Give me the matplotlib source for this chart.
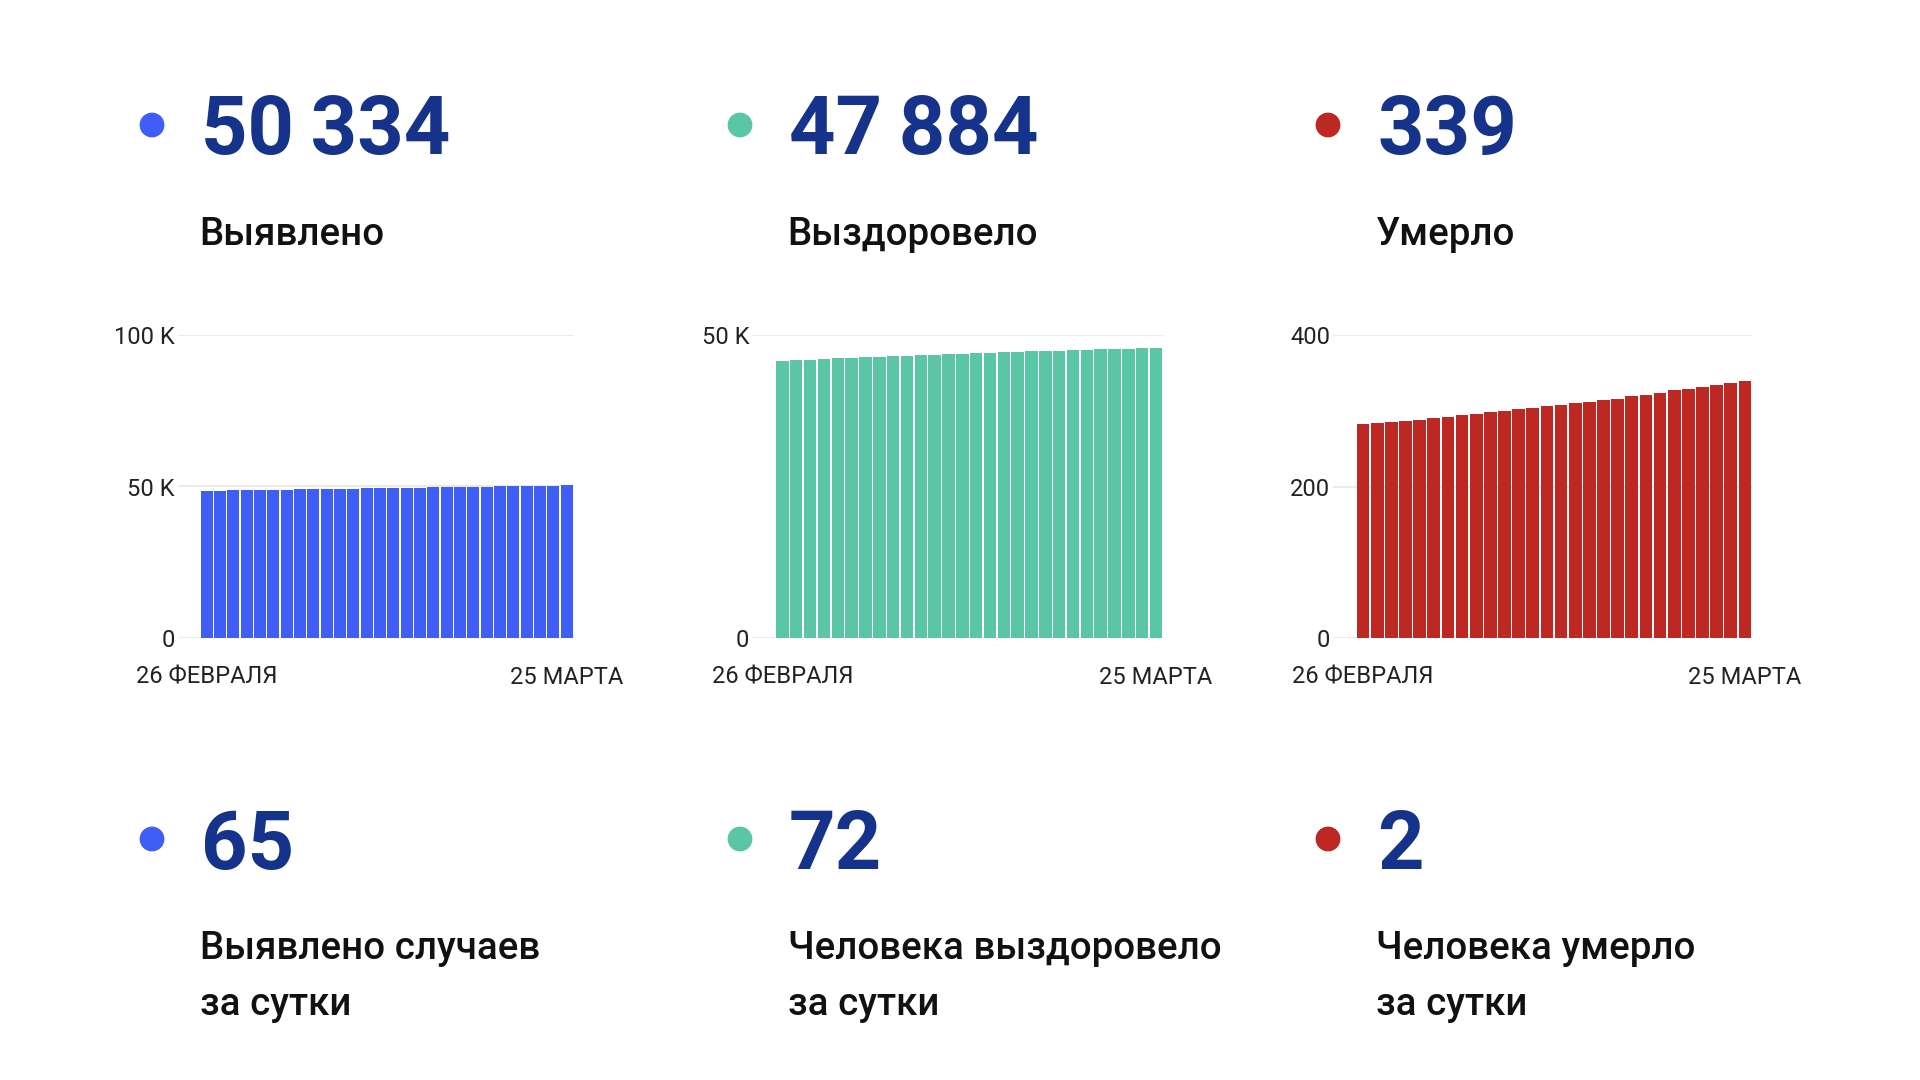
import matplotlib.pyplot as plt
from matplotlib.patches import Circle

plt.rcParams['font.family'] = ['Roboto', 'DejaVu Sans']

# 26 Feb .. 25 Mar, one bar per day
days = list(range(28))
date_labels = ['26 ФЕВРАЛЯ', '25 МАРТА']

detected = [48590, 48660, 48730, 48790, 48860, 48920, 48990, 49050, 49120, 49180,
            49250, 49310, 49380, 49440, 49500, 49570, 49630, 49690, 49760, 49820,
            49890, 49950, 50010, 50080, 50140, 50200, 50269, 50334]
recovered = [45710, 45820, 45930, 46030, 46140, 46240, 46340, 46430, 46520, 46600,
             46690, 46770, 46850, 46930, 47000, 47070, 47140, 47210, 47280, 47350,
             47420, 47490, 47550, 47610, 47680, 47740, 47812, 47884]
died = [283, 284, 285, 286, 288, 290, 292, 294, 296, 298, 300, 302, 304, 306,
        308, 310, 312, 314, 316, 319, 321, 324, 327, 329, 332, 334, 337, 339]

totals = ['50\u2009334', '47\u2009884', '339']
titles = ['Выявлено', 'Выздоровело', 'Умерло']
daily = ['65', '72', '2']
daily_titles = [['Выявлено случаев', 'за сутки'],
                ['Человека выздоровело', 'за сутки'],
                ['Человека умерло', 'за сутки']]

y_ticks = [[0, 50000, 100000], [0, 50000], [0, 200, 400]]
y_labels = [['0', '50 K', '100 K'], ['0', '50 K'], ['0', '200', '400']]
y_max = [100000, 50000, 400]

colors = ['#3F5EF6', '#5BC6A5', '#BD2823']
navy = '#16338C'

W, H = 1920, 1080
fig = plt.figure(figsize=(19.2, 10.8), dpi=100)
fig.patch.set_facecolor('white')

# overlay in pixel coordinates for the text blocks
over = fig.add_axes([0, 0, 1, 1])
over.set_xlim(0, W)
over.set_ylim(H, 0)
over.axis('off')

dot_x = [152, 740, 1328]
num_x = [201, 789, 1377]
lab_x = [199.5, 787.5, 1375.5]

for i in range(3):
    over.add_patch(Circle((dot_x[i], 125), 11.7, color=colors[i]))
    over.text(num_x[i], 154, totals[i], fontsize=58.5, fontweight='bold',
              color=navy, va='baseline', ha='left')
    over.text(lab_x[i], 245, titles[i], fontsize=27.7, fontweight='medium',
              color='#111111', va='baseline', ha='left')

    over.add_patch(Circle((dot_x[i], 839), 11.7, color=colors[i]))
    over.text(num_x[i], 869, daily[i], fontsize=58.5, fontweight='bold',
              color=navy, va='baseline', ha='left')
    for k, line in enumerate(daily_titles[i]):
        over.text(lab_x[i], 959 + 56 * k, line, fontsize=27.7, fontweight='medium',
                  color='#111111', va='baseline', ha='left')

# bar charts: (axes left px, first bar px, right px)
boxes = [(177.5, 200, 573.5), (752, 775.5, 1163), (1333, 1356, 1752)]
series = [detected, recovered, died]
top, bottom = 335, 638

for i in range(3):
    x0, b0, x1 = boxes[i]
    ax = fig.add_axes([x0 / W, 1 - bottom / H, (x1 - x0) / W, (bottom - top) / H])
    ax.bar(days, series[i], width=0.9, color=colors[i], zorder=3)
    bw = (x1 - b0) / len(days)
    ax.set_xlim(-0.5 - (b0 - x0) / bw, len(days) - 0.5)
    ax.set_ylim(0, y_max[i])
    ax.set_yticks(y_ticks[i])
    ax.set_yticklabels(y_labels[i])
    ax.set_xticks([days[0], days[-1]])
    ax.set_xticklabels(date_labels)
    plt.setp(ax.get_xticklabels(), va='baseline')
    ax.tick_params(axis='y', length=0, pad=2, labelsize=17, labelcolor='#222222')
    ax.tick_params(axis='x', length=0, pad=33, labelsize=17, labelcolor='#222222')
    ax.grid(axis='y', color='#EBEBEB', linewidth=1.5, zorder=0)
    ax.set_axisbelow(True)
    for s in ax.spines.values():
        s.set_visible(False)
    ax.patch.set_alpha(0)

fig.savefig('out.png', dpi=100, facecolor='white')
